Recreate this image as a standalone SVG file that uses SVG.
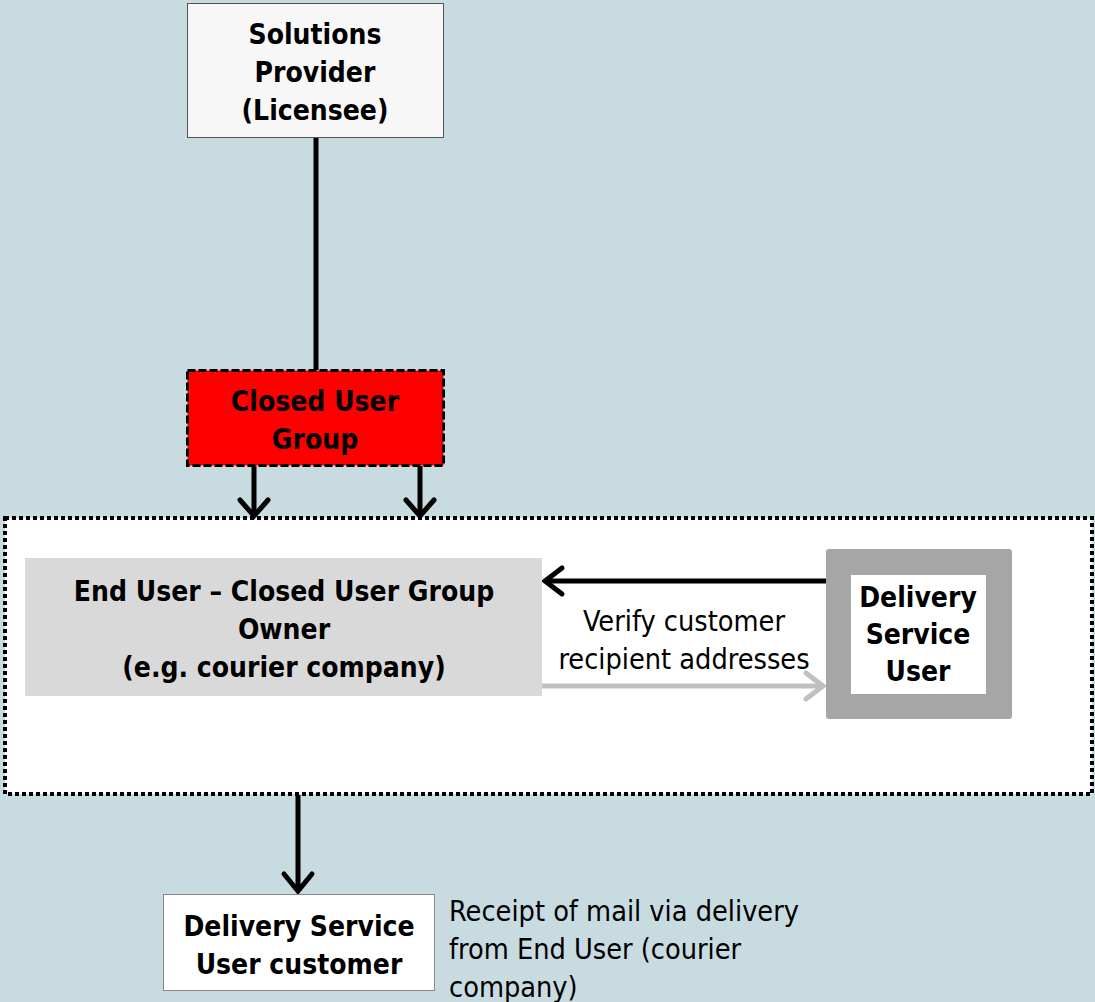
<svg xmlns="http://www.w3.org/2000/svg" width="1095" height="1002" viewBox="0 0 1095 1002">
<style>
.b{font-family:"DejaVu Sans Condensed","DejaVu Sans",sans-serif;font-weight:bold;font-size:28px;fill:#000;text-anchor:middle}
.r{font-family:"DejaVu Sans Condensed","DejaVu Sans",sans-serif;font-size:28.6px;fill:#000}
.ln{fill:none;stroke:#000;stroke-width:5}
.hd{fill:none;stroke:#000;stroke-width:5;stroke-linecap:round}
</style>
<rect width="1095" height="1002" fill="#c8dbe0"/>
<g id="cug-area">
<rect x="5" y="518" width="1087" height="276" fill="#fff" stroke="#000" stroke-width="4" stroke-dasharray="4,3"/>
</g>
<g id="connectors">
<line x1="316" y1="138" x2="316" y2="370" stroke="#000" stroke-width="5"/>
<path d="M254,466 V514" class="ln"/>
<path d="M240,500 L254,516 L268,500" class="hd"/>
<path d="M420,466 V514" class="ln"/>
<path d="M406,500 L420,516 L434,500" class="hd"/>
<path d="M826,581 H546" class="ln"/>
<path d="M562,568 L545,581 L562,594" class="hd"/>
<path d="M541,686 H822" fill="none" stroke="#c0c0c0" stroke-width="5"/>
<path d="M806,673 L823,686 L806,699" fill="none" stroke="#c0c0c0" stroke-width="5" stroke-linecap="round"/>
<path d="M298,795 V890" class="ln"/>
<path d="M284,874 L298,891 L312,874" class="hd"/>
</g>
<g id="solutions-provider">
<rect x="187.5" y="3.5" width="256" height="134" fill="#f7f7f7" stroke="#555" stroke-width="1"/>
<text class="b" x="315" y="44">Solutions</text>
<text class="b" x="315" y="82">Provider</text>
<text class="b" x="315" y="120">(Licensee)</text>
</g>
<g id="closed-user-group">
<rect x="187.5" y="370.5" width="256" height="95" fill="#ff0000" stroke="#000" stroke-width="3" stroke-dasharray="8,3"/>
<text class="b" x="315" y="411">Closed User</text>
<text class="b" x="315" y="449">Group</text>
</g>
<g id="end-user">
<rect x="25" y="558" width="517" height="138" fill="#d9d9d9"/>
<text class="b" x="284" y="601">End User – Closed User Group</text>
<text class="b" x="284" y="639">Owner</text>
<text class="b" x="284" y="677">(e.g. courier company)</text>
</g>
<g id="verify-label">
<text class="r" x="684" y="631" text-anchor="middle">Verify customer</text>
<text class="r" x="684" y="669" text-anchor="middle">recipient addresses</text>
</g>
<g id="delivery-service-user">
<rect x="826" y="549" width="186" height="170" rx="3" fill="#a6a6a6"/>
<rect x="851" y="575" width="135" height="119" fill="#fff"/>
<text class="b" x="918" y="607">Delivery</text>
<text class="b" x="918" y="644">Service</text>
<text class="b" x="918" y="681">User</text>
</g>
<g id="dsu-customer">
<rect x="163.5" y="894.5" width="271" height="96" fill="#fff" stroke="#888" stroke-width="1"/>
<text class="b" x="299" y="936">Delivery Service</text>
<text class="b" x="299" y="974">User customer</text>
</g>
<g id="receipt-label">
<text class="r" x="449" y="921">Receipt of mail via delivery</text>
<text class="r" x="449" y="959">from End User (courier</text>
<text class="r" x="449" y="997">company)</text>
</g>
</svg>
